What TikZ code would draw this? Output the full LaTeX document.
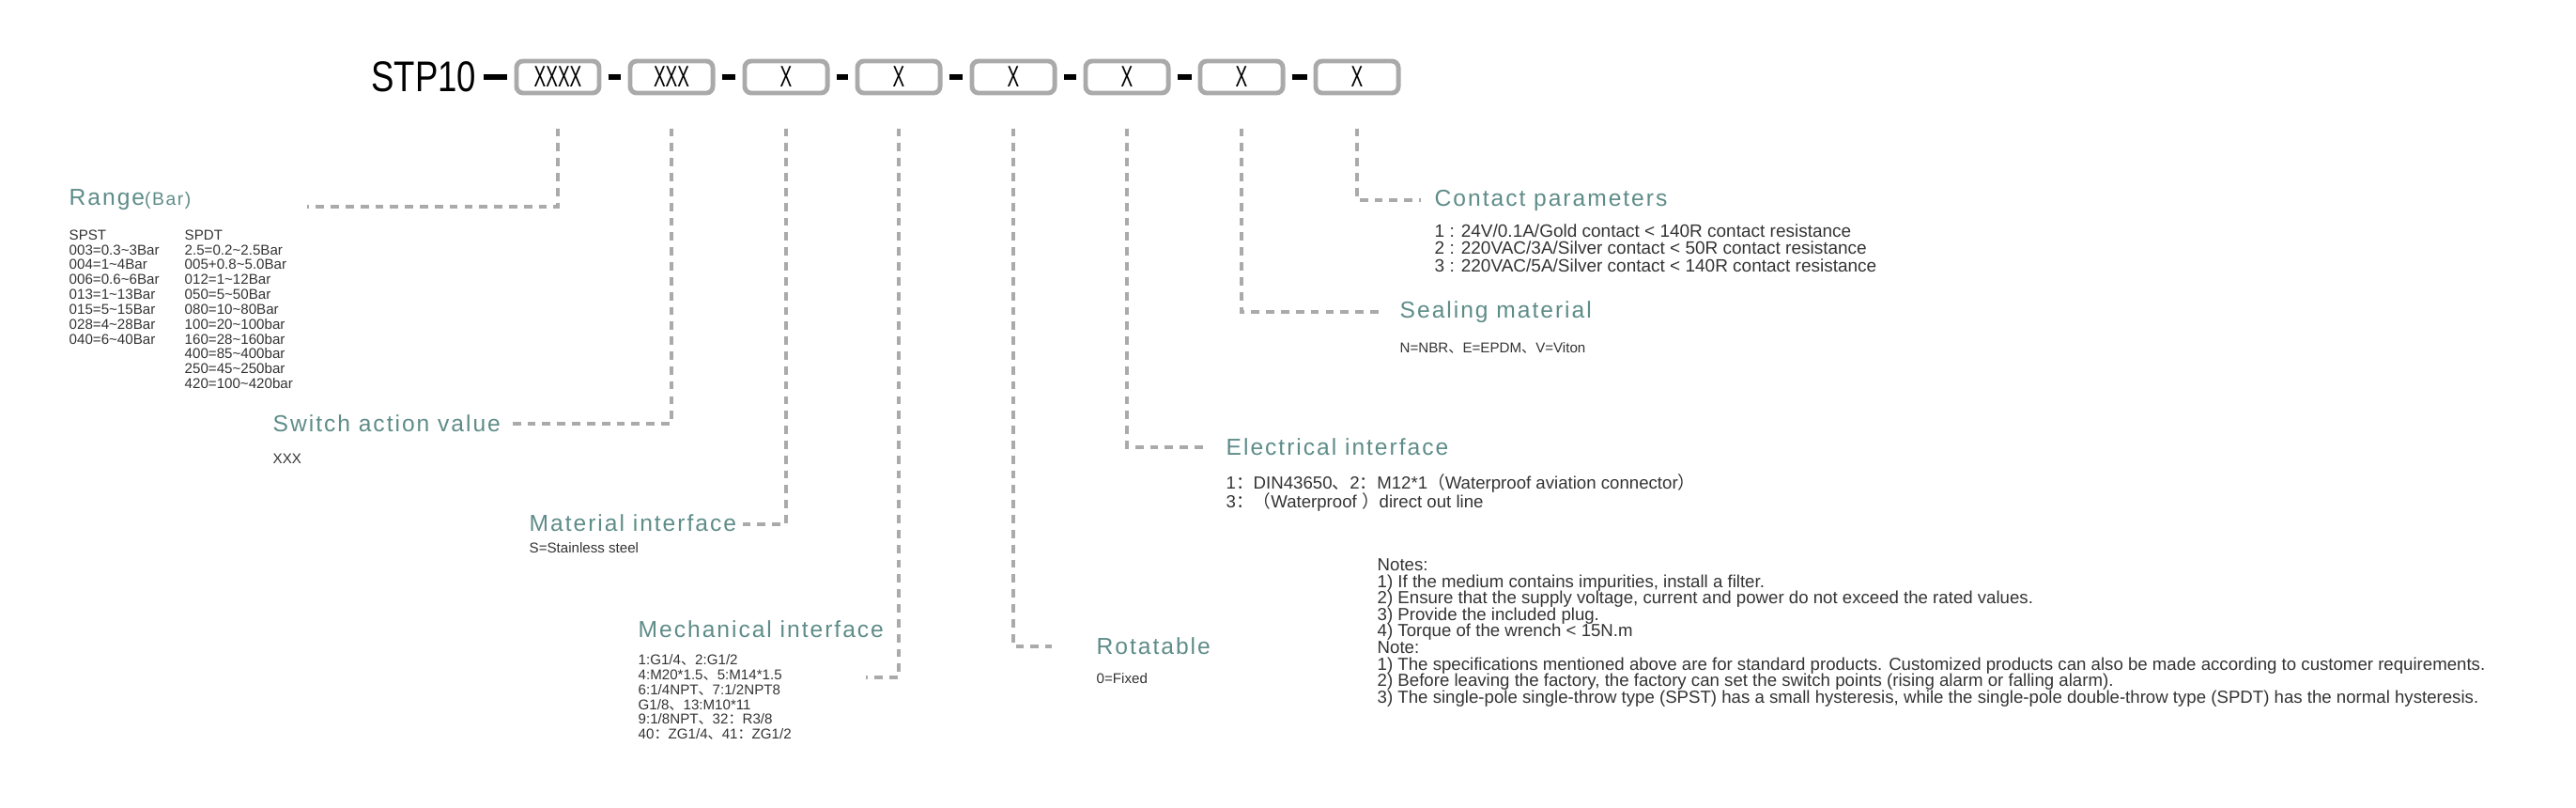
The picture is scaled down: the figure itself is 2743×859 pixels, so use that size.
\documentclass[tikz,border=0pt]{standalone}
\usepackage{fontspec}
\setmainfont{Liberation Sans}
\newfontfamily\cjk{Noto Sans CJK SC}
\newcommand{\dn}{{\cjk 、}}
\newcommand{\lp}{{\cjk （}}
\newcommand{\rp}{{\cjk ）}}
\newcommand{\cl}{{\cjk ：}}
\newcommand{\tightfont}[2]{\fontsize{#1}{#2}\selectfont\lineskiplimit=-5pt\relax}
\usetikzlibrary{positioning}
\definecolor{headcol}{HTML}{5E8C88}
\definecolor{textcol}{HTML}{333333}
\definecolor{leadcol}{HTML}{AAAAAA}
\begin{document}
\begin{tikzpicture}[x=0.01cm,y=-0.01cm]
\tikzstyle{codebox}=[draw=leadcol,line width=1.4pt,rounded corners=2pt,minimum width=0.88cm,minimum height=0.34cm,inner sep=0pt,font=\fontsize{9}{9}\selectfont\addfontfeature{FakeStretch=0.6}]
\tikzstyle{joint}=[line width=1.6pt,black]
\tikzstyle{lead}=[leadcol,line width=0.9pt,dash pattern=on 2.5pt off 2pt]
\tikzstyle{head}=[anchor=west,inner sep=0pt,text=headcol,font=\fontsize{7}{7}\selectfont\addfontfeature{LetterSpace=8}]
\tikzstyle{info}=[anchor=north west,inner sep=0pt,text=textcol,align=left,font=\tightfont{4.3}{4.5}]
\tikzstyle{wide}=[info,font=\tightfont{5.3}{5}]
\useasboundingbox (0,0) rectangle (2743,859);

% ========= code boxes
\node (stp) [anchor=east,inner sep=0pt,font=\fontsize{13}{13}\selectfont\addfontfeature{FakeStretch=0.8}] at (508,82) {STP10};
\foreach \n/\x/\t in {1/594/XXXX,2/715/XXX,3/837/X,4/957/X,5/1079/X,6/1200/X,7/1322/X,8/1445/X}
  \node (b\n) [codebox] at (\x,82) {\t};
\draw [joint] ([xshift=2pt]stp.east) -- ([xshift=-2pt]b1.west);
\foreach \a/\b in {1/2,2/3,3/4,4/5,5/6,6/7,7/8}
  \draw [joint] ([xshift=2pt]b\a.east) -- ([xshift=-2pt]b\b.west);

% ========= headers
\node (range) [head] at (73,213) {Range{\fontsize{5.5}{5.5}\selectfont(Bar)}};
\node (switch) [head] at (290,451) {Switch action value};
\node (material) [head] at (563,557) {Material interface};
\node (mech) [head] at (679,670) {Mechanical interface};
\node (rot) [head] at (1167,688) {Rotatable};
\node (elec) [head] at (1305,476) {Electrical interface};
\node (seal) [head] at (1490,332) {Sealing material};
\node (contact) [head] at (1527,213) {Contact parameters};

% ====== connections
\draw [lead] ([yshift=-10pt]b1.south) |- (327,220);
\draw [lead] ([yshift=-10pt]b2.south) |- (539,451);
\draw [lead] ([yshift=-10pt]b3.south) |- (791,558);
\draw [lead] ([yshift=-10pt]b4.south) |- (922,721);
\draw [lead] ([yshift=-10pt]b5.south) |- (1120,688);
\draw [lead] ([yshift=-10pt]b6.south) |- (1286,476);
\draw [lead] ([yshift=-10pt]b7.south) |- (1473,332);
\draw [lead] ([yshift=-10pt]b8.south) |- (1513,213);

%% ===== details
\node (spst) [info] at (73,244) {SPST\\003=0.3\textasciitilde3Bar\\004=1\textasciitilde4Bar\\006=0.6\textasciitilde6Bar\\013=1\textasciitilde13Bar\\015=5\textasciitilde15Bar\\028=4\textasciitilde28Bar\\040=6\textasciitilde40Bar};
\node (spdt) [info] at (196,244) {SPDT\\2.5=0.2\textasciitilde2.5Bar\\005+0.8\textasciitilde5.0Bar\\012=1\textasciitilde12Bar\\050=5\textasciitilde50Bar\\080=10\textasciitilde80Bar\\100=20\textasciitilde100bar\\160=28\textasciitilde160bar\\400=85\textasciitilde400bar\\250=45\textasciitilde250bar\\420=100\textasciitilde420bar};
\node (xxx) [info] at (290,482) {XXX};
\node (steel) [info] at (563,577) {S=Stainless steel};
\node (thread) [info] at (679,696) {1:G1/4\dn 2:G1/2\\4:M20*1.5\dn 5:M14*1.5\\6:1/4NPT\dn 7:1/2NPT8\\G1/8\dn 13:M10*11\\9:1/8NPT\dn 32\cl R3/8\\40\cl ZG1/4\dn 41\cl ZG1/2};
\node (fixed) [info] at (1167,716) {0=Fixed};
\node (plug) [wide,font=\tightfont{5.3}{5.5}] at (1305,504) {1\cl DIN43650\dn 2\cl M12*1\lp Waterproof aviation connector\rp\\3\cl \lp Waterproof \rp direct out line};
\node (nbr) [info] at (1490,364) {N=NBR\dn E=EPDM\dn V=Viton};
\node (rating) [wide,font=\tightfont{5.4}{5.2}] at (1527,238) {1 : 24V/0.1A/Gold contact < 140R contact resistance\\2 : 220VAC/3A/Silver contact < 50R contact resistance\\3 : 220VAC/5A/Silver contact < 140R contact resistance};
\node (notes) [wide] at (1466,594) {Notes:\\1) If the medium contains impurities, install a filter.\\2) Ensure that the supply voltage, current and power do not exceed the rated values.\\3) Provide the included plug.\\4) Torque of the wrench < 15N.m\\Note:\\1) The specifications mentioned above are for standard products. Customized products can also be made according to customer requirements.\\2) Before leaving the factory, the factory can set the switch points (rising alarm or falling alarm).\\3) The single-pole single-throw type (SPST) has a small hysteresis, while the single-pole double-throw type (SPDT) has the normal hysteresis.};
\end{tikzpicture}
\end{document}
